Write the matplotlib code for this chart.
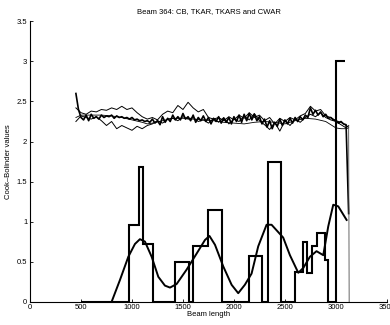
import numpy as np
import matplotlib.pyplot as plt

plt.rcParams['font.family'] = ['Liberation Sans', 'DejaVu Sans']

# upper curves (CB, TKAR, TKARS, CWAR), sampled along the beam
x_up = [450, 500, 550, 600, 650, 700, 750, 800, 850, 900, 950, 1000, 1050, 1100,
        1150, 1200, 1250, 1300, 1350, 1400, 1450, 1500, 1550, 1600, 1650, 1700,
        1750, 1800, 1850, 1900, 1950, 2000, 2050, 2100, 2150, 2200, 2250, 2300,
        2350, 2400, 2450, 2500, 2550, 2600, 2650, 2700, 2750, 2800, 2850, 2900,
        2950, 3000, 3050, 3100, 3125]
tkar = [2.42, 2.36, 2.34, 2.38, 2.37, 2.40, 2.39, 2.42, 2.40, 2.44, 2.40, 2.42, 2.36, 2.31,
        2.28, 2.30, 2.27, 2.34, 2.38, 2.36, 2.45, 2.40, 2.49, 2.42, 2.37, 2.40,
        2.30, 2.28, 2.30, 2.26, 2.31, 2.27, 2.33, 2.29, 2.36, 2.30, 2.33, 2.26,
        2.30, 2.22, 2.29, 2.25, 2.30, 2.27, 2.32, 2.35, 2.44, 2.38, 2.40, 2.32,
        2.30, 2.26, 2.24, 2.20, 2.18]
tkars = [2.25, 2.32, 2.30, 2.28, 2.31, 2.26, 2.20, 2.25, 2.16, 2.20, 2.17, 2.14, 2.19, 2.16,
         2.20, 2.22, 2.26, 2.23, 2.28, 2.29, 2.26, 2.31, 2.28, 2.30, 2.25, 2.27,
         2.23, 2.29, 2.24, 2.30, 2.22, 2.28, 2.25, 2.32, 2.27, 2.35, 2.26, 2.21,
         2.15, 2.24, 2.13, 2.26, 2.20, 2.28, 2.24, 2.30, 2.34, 2.31, 2.36, 2.30,
         2.27, 2.25, 2.21, 2.17, 2.20]
x_cw = np.arange(450, 3126, 25)
cwar = [2.60, 2.40, 2.30, 2.27, 2.33, 2.26, 2.34, 2.29, 2.31, 2.28,
        2.33, 2.30, 2.32, 2.31, 2.33, 2.29, 2.32, 2.30, 2.31, 2.29,
        2.30, 2.28, 2.30, 2.27, 2.28, 2.26, 2.27, 2.25, 2.26, 2.24,
        2.28, 2.23, 2.26, 2.21, 2.31, 2.24, 2.29, 2.25, 2.33, 2.27,
        2.31, 2.27, 2.35, 2.28, 2.31, 2.26, 2.33, 2.24, 2.30, 2.26,
        2.32, 2.25, 2.30, 2.22, 2.29, 2.25, 2.31, 2.23, 2.29, 2.24,
        2.30, 2.22, 2.31, 2.25, 2.33, 2.24, 2.34, 2.26, 2.35, 2.27,
        2.34, 2.26, 2.31, 2.22, 2.28, 2.18, 2.26, 2.16, 2.24, 2.19,
        2.28, 2.20, 2.27, 2.22, 2.29, 2.23, 2.30, 2.25, 2.31, 2.27,
        2.33, 2.30, 2.42, 2.34, 2.39, 2.33, 2.37, 2.31, 2.34, 2.29,
        2.30, 2.27, 2.26, 2.23, 2.25, 2.22, 2.21, 1.10]
x_cb = [450, 500, 600, 700, 800, 900, 1000, 1100, 1150, 1200, 1300, 1400, 1500, 1600,
        1700, 1800, 1900, 2000, 2100, 2200, 2300, 2400, 2500, 2600, 2700, 2800,
        2900, 3000, 3050, 3100, 3125]
cb = [2.30, 2.33, 2.33, 2.33, 2.32, 2.30, 2.27, 2.24, 2.22, 2.23, 2.26, 2.29, 2.29, 2.28,
      2.27, 2.26, 2.24, 2.23, 2.22, 2.24, 2.25, 2.24, 2.22, 2.26, 2.29, 2.28,
      2.25, 2.17, 2.16, 2.16, 2.17]
x_end = [3125, 3130]
y_end = [2.20, 0.0]

# lower: stepwise values and smoothed version
edges = [500, 974, 1072, 1111, 1209, 1425, 1556, 1601, 1745, 1880, 2150, 2280,
         2335, 2458, 2600, 2673, 2712, 2761, 2810, 2892, 2925, 3000, 3088]
steps = [0, 0.96, 1.68, 0.72, 0, 0.49, 0, 0.69, 1.14, 0, 0.57, 0, 1.75, 0,
         0.37, 0.74, 0.36, 0.70, 0.86, 0.52, 0, 3.01]
x_sm = [801, 882, 964, 1029, 1078, 1127, 1193, 1258, 1323, 1373, 1438, 1536, 1634,
        1716, 1760, 1814, 1895, 1977, 2042, 2107, 2173, 2238, 2320, 2369, 2483,
        2549, 2631, 2680, 2745, 2810, 2876, 2925, 2974, 3023, 3105]
y_sm = [0.0, 0.27, 0.56, 0.72, 0.78, 0.75, 0.56, 0.31, 0.20, 0.175, 0.22, 0.40, 0.60,
        0.77, 0.82, 0.71, 0.44, 0.21, 0.105, 0.21, 0.35, 0.69, 0.96, 0.96, 0.80,
        0.58, 0.36, 0.42, 0.56, 0.63, 0.58, 0.94, 1.21, 1.19, 1.02]

fig = plt.figure(figsize=(3.9, 3.25), dpi=100)
ax = fig.add_axes([0.077, 0.072, 0.915, 0.862])

ax.plot(x_cb, cb, color='black', lw=0.6)
ax.plot(x_up, tkar, color='black', lw=0.7)
ax.plot(x_up, tkars, color='black', lw=0.7)
ax.plot(x_cw, cwar, color='black', lw=1.2)
ax.plot(x_end, y_end, color='0.3', lw=0.6)
ax.stairs(steps, edges, baseline=None, color='black', lw=1.5)
ax.plot(x_sm, y_sm, color='black', lw=1.4)

ax.set_xlim(0, 3500)
ax.set_ylim(0, 3.5)
ax.set_xticks(np.arange(0, 3501, 500))
ax.set_yticks(np.arange(0, 3.51, 0.5))
ax.set_yticklabels(['0', '0.5', '1', '1.5', '2', '2.5', '3', '3.5'])
ax.tick_params(direction='in', length=2, labelsize=5.5, pad=2, width=0.6)
for s in ['top', 'right']:
    ax.spines[s].set_visible(False)
for s in ['left', 'bottom']:
    ax.spines[s].set_linewidth(0.8)

ax.set_title('Beam 364: CB, TKAR, TKARS and CWAR', fontsize=5.5, pad=6)
ax.set_xlabel('Beam length', fontsize=5.5, labelpad=0)
ax.set_ylabel('Cook\u2013Bolinder values', fontsize=5.5, labelpad=3)

fig.savefig('out.png', dpi=100)
